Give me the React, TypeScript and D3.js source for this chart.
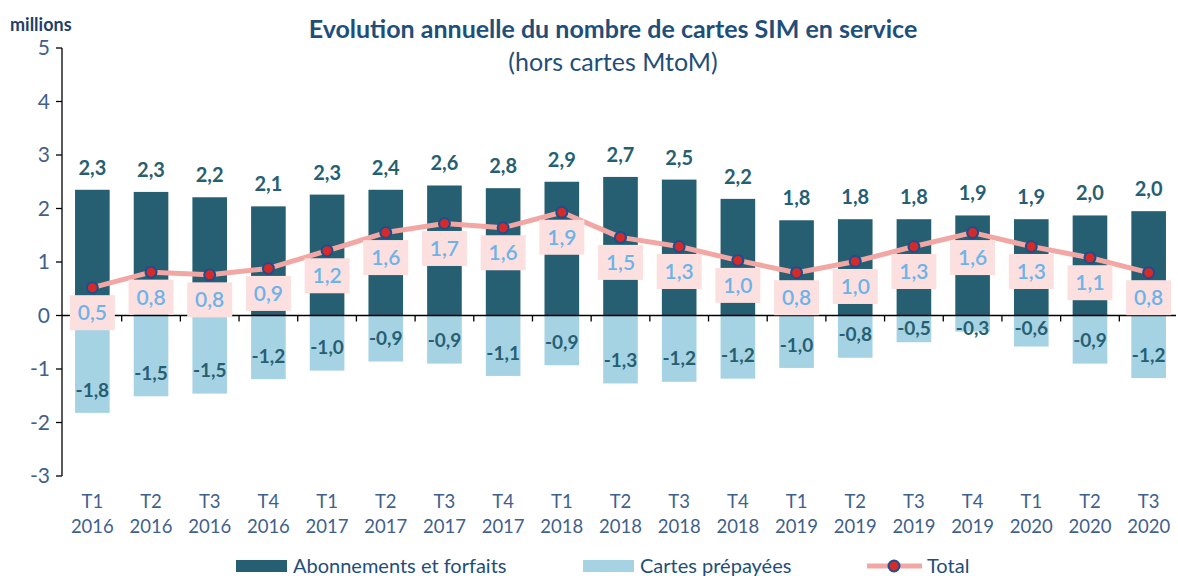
import * as d3 from "d3";

const quarters = ["T1", "T2", "T3", "T4", "T1", "T2", "T3", "T4", "T1", "T2", "T3", "T4", "T1", "T2", "T3", "T4", "T1", "T2", "T3"];
const years = ["2016", "2016", "2016", "2016", "2017", "2017", "2017", "2017", "2018", "2018", "2018", "2018", "2019", "2019", "2019", "2019", "2020", "2020", "2020"];

const aboValues = [2.35, 2.31, 2.21, 2.04, 2.26, 2.35, 2.43, 2.38, 2.5, 2.59, 2.54, 2.18, 1.78, 1.8, 1.8, 1.87, 1.8, 1.87, 1.95];
const aboLabels = ["2,3", "2,3", "2,2", "2,1", "2,3", "2,4", "2,6", "2,8", "2,9", "2,7", "2,5", "2,2", "1,8", "1,8", "1,8", "1,9", "1,9", "2,0", "2,0"];

const prepaidValues = [-1.82, -1.51, -1.46, -1.19, -1.03, -0.86, -0.9, -1.13, -0.93, -1.27, -1.24, -1.18, -0.98, -0.79, -0.5, -0.3, -0.58, -0.9, -1.17];
const prepaidLabels = ["-1,8", "-1,5", "-1,5", "-1,2", "-1,0", "-0,9", "-0,9", "-1,1", "-0,9", "-1,3", "-1,2", "-1,2", "-1,0", "-0,8", "-0,5", "-0,3", "-0,6", "-0,9", "-1,2"];

const totalValues = [0.52, 0.81, 0.76, 0.88, 1.21, 1.55, 1.72, 1.64, 1.93, 1.46, 1.29, 1.03, 0.8, 1.01, 1.29, 1.55, 1.29, 1.08, 0.8];
const totalLabels = ["0,5", "0,8", "0,8", "0,9", "1,2", "1,6", "1,7", "1,6", "1,9", "1,5", "1,3", "1,0", "0,8", "1,0", "1,3", "1,6", "1,3", "1,1", "0,8"];

const yTicks = [5, 4, 3, 2, 1, 0, -1, -2, -3];

const W = 1178;
const H = 576;
const FONT = "Lato, 'Open Sans', sans-serif";
const DARK = "#275F72";
const LIGHT = "#A6D3E3";
const AXIS_TXT = "#3F5F8C";
const TITLE = "#1F4E79";

export default function App() {
  const idx = quarters.map((_, i) => i);
  const x = d3.scaleBand<number>().domain(idx).range([63, 1178]).paddingInner(0.41).paddingOuter(0.205);
  const y = d3.scaleLinear().domain([-3, 5]).range([476, 48]);
  const y0 = y(0);
  const cx = (i: number) => (x(i) as number) + x.bandwidth() / 2;

  const line = d3.line<number>().x((_, i) => cx(i)).y((d) => y(d));

  // tick marks sit between the categories
  const bandEdges = idx.map((i) => (x(i) as number) - (x.step() * x.paddingInner()) / 2);

  return (
    <svg width={W} height={H} style={{ position: "absolute", left: 0, top: 0, background: "#fff" }} fontFamily={FONT}>
      <text x={10} y={31} fontSize={18} fontWeight={700} fill="#1F3F6A">millions</text>
      <text x={613} y={38} textAnchor="middle" fontSize={25} fontWeight={700} fill={TITLE}>
        Evolution annuelle du nombre de cartes SIM en service
      </text>
      <text x={613} y={71} textAnchor="middle" fontSize={25} fill={TITLE}>(hors cartes MtoM)</text>

      {/* y axis */}
      <line x1={62} x2={62} y1={y(5)} y2={y(-3)} stroke="#000" strokeWidth={1.3} />
      {yTicks.map((t) => (
        <g key={t}>
          <line x1={56} x2={62} y1={y(t)} y2={y(t)} stroke="#000" strokeWidth={1.3} />
          <text x={50} y={y(t)} dy="0.35em" textAnchor="end" fontSize={21} fill={AXIS_TXT}>{t}</text>
        </g>
      ))}

      {/* bars */}
      {aboValues.map((v, i) => (
        <rect key={"a" + i} x={x(i)} y={y(v)} width={x.bandwidth()} height={y0 - y(v)} fill={DARK} />
      ))}
      {prepaidValues.map((v, i) => (
        <rect key={"p" + i} x={x(i)} y={y0} width={x.bandwidth()} height={y(v) - y0} fill={LIGHT} />
      ))}

      <line x1={62} x2={1176} y1={y0} y2={y0} stroke="#000" strokeWidth={1.5} />
      {bandEdges.slice(1).map((bx, i) => (
        <line key={"t" + i} x1={bx} x2={bx} y1={y0} y2={y0 + 6} stroke="#000" strokeWidth={1.3} />
      ))}

      {idx.map((i) => (
        <g key={"c" + i}>
          <text x={cx(i)} y={502} dy="0.35em" textAnchor="middle" fontSize={18.5} fill={AXIS_TXT}>{quarters[i]}</text>
          <text x={cx(i)} y={527} dy="0.35em" textAnchor="middle" fontSize={18.5} fill={AXIS_TXT}>{years[i]}</text>
        </g>
      ))}

      {aboLabels.map((l, i) => (
        <text key={"al" + i} x={cx(i)} y={y(aboValues[i]) - 22} dy="0.35em" textAnchor="middle" fontSize={20} fontWeight={700} fill={DARK}>{l}</text>
      ))}
      {prepaidLabels.map((l, i) => (
        <text key={"pl" + i} x={cx(i)} y={Math.max(y(prepaidValues[i]) - 23, y0 + 13)} dy="0.35em" textAnchor="middle" fontSize={19} fontWeight={700} fill={DARK}>{l}</text>
      ))}

      {/* total line */}
      <path d={line(totalValues) ?? ""} fill="none" stroke="#F2A7A5" strokeWidth={5} strokeLinejoin="round" />
      {totalValues.map((v, i) => (
        <circle key={"m" + i} cx={cx(i)} cy={y(v)} r={5.5} fill="#D42A2A" stroke="#1F4E8C" strokeWidth={2} />
      ))}
      {totalLabels.map((l, i) => (
        <g key={"tl" + i}>
          <rect x={cx(i) - 22.5} y={y(totalValues[i]) + 25 - 17.5} width={45} height={35} fill="#FCE0E0" />
          <text x={cx(i)} y={y(totalValues[i]) + 25} dy="0.35em" textAnchor="middle" fontSize={21} fontWeight={600} fill="#6DB3E8">{l}</text>
        </g>
      ))}

      {/* legend */}
      <rect x={236} y={560} width={51} height={12} fill={DARK} />
      <text x={293} y={566} dy="0.35em" fontSize={20} fill={TITLE}>Abonnements et forfaits</text>
      <rect x={583} y={560} width={51} height={12} fill={LIGHT} />
      <text x={640} y={566} dy="0.35em" fontSize={20} fill={TITLE}>Cartes prépayées</text>
      <line x1={867} x2={922} y1={566} y2={566} stroke="#F2A7A5" strokeWidth={5} />
      <circle cx={894} cy={566} r={5.5} fill="#D42A2A" stroke="#1F4E8C" strokeWidth={2} />
      <text x={927} y={566} dy="0.35em" fontSize={20} fill={TITLE}>Total</text>
    </svg>
  );
}
